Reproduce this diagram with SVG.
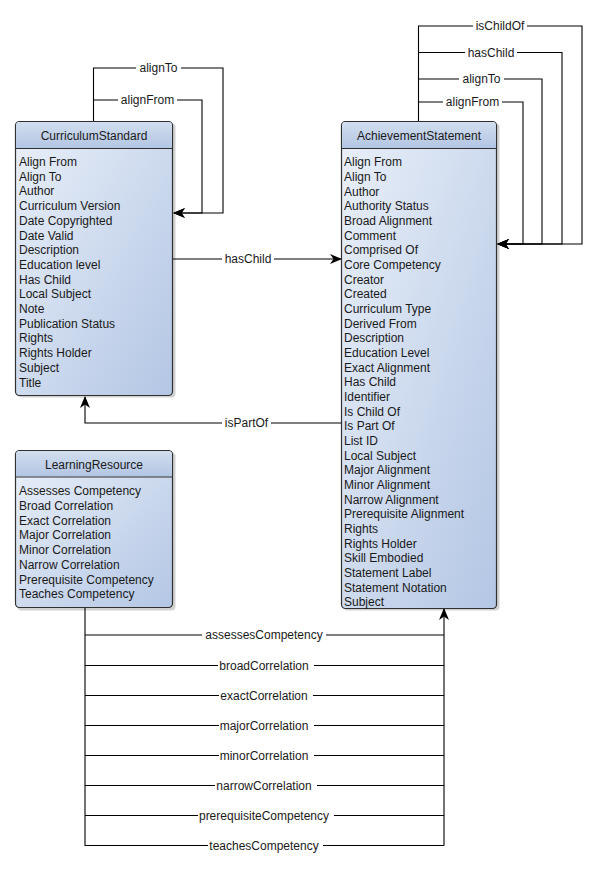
<svg xmlns="http://www.w3.org/2000/svg" width="598" height="870" viewBox="0 0 598 870">
<style>
text{font-family:"Liberation Sans",Arial,sans-serif;font-size:12px;fill:#1a1a1a}
.t{text-anchor:middle}
.lbl{text-anchor:middle}
.bg{fill:#fff}
.box{stroke:#303030;stroke-width:1.2;fill:url(#body)}
.hdr{fill:url(#head)}
.sep{stroke:#303030;stroke-width:1}
.sh{fill:#000;opacity:0.18}
.c{fill:none;stroke:#000;stroke-width:1.1}
.ca{fill:none;stroke:#000;stroke-width:1.1;marker-end:url(#arr)}
</style>
<defs>
<linearGradient id="body" x1="0" y1="0" x2="1" y2="1">
<stop offset="0" stop-color="#eaf0f9"/>
<stop offset="1" stop-color="#b3c6e4"/>
</linearGradient>
<linearGradient id="head" x1="0" y1="0" x2="0" y2="1">
<stop offset="0" stop-color="#d2deef"/>
<stop offset="1" stop-color="#b2c5e3"/>
</linearGradient>
<marker id="arr" markerUnits="userSpaceOnUse" markerWidth="12" markerHeight="10" refX="11" refY="5" orient="auto" viewBox="0 0 12 10">
<path d="M0,0 L12,5 L0,10 L3.5,5 z" fill="#000"/>
</marker>
</defs>
<rect width="598" height="870" fill="#fff"/>

<g id="connectors">
<path class="ca" d="M93.5,121 V68 H223 V213 H174"/>
<path class="ca" d="M93.5,100 H202 V213 H174"/>
<path class="ca" d="M418.5,121 V26 H582 V244 H498"/>
<path class="ca" d="M418.5,52.5 H562 V244 H498"/>
<path class="ca" d="M418.5,79 H542 V244 H498"/>
<path class="ca" d="M418.5,102 H523 V244 H498"/>
<path class="ca" d="M173,259 H341"/>
<path class="ca" d="M341,423 H85 V397"/>
<path class="c" d="M85,608 V845.5 H444"/>
<path class="c" d="M85,635 H444 M85,665.5 H444 M85,695.5 H444 M85,725.5 H444 M85,755.5 H444 M85,785.5 H444 M85,815.5 H444"/>
<path class="ca" d="M444,845.5 V609"/>
<g id="labels">
<rect class="bg" x="136" y="61" width="45" height="14"/><text class="lbl" x="158.5" y="72">alignTo</text>
<rect class="bg" x="118" y="93" width="59" height="14"/><text class="lbl" x="147.5" y="104">alignFrom</text>
<rect class="bg" x="473" y="19" width="54" height="14"/><text class="lbl" x="500" y="30">isChildOf</text>
<rect class="bg" x="465" y="45.5" width="52" height="14"/><text class="lbl" x="491" y="56.5">hasChild</text>
<rect class="bg" x="459" y="72" width="45" height="14"/><text class="lbl" x="481.5" y="83">alignTo</text>
<rect class="bg" x="443" y="95" width="59" height="14"/><text class="lbl" x="472.5" y="106">alignFrom</text>
<rect class="bg" x="222" y="252" width="52" height="14"/><text class="lbl" x="248" y="263">hasChild</text>
<rect class="bg" x="222" y="416" width="49" height="14"/><text class="lbl" x="246.5" y="427">isPartOf</text>
<rect class="bg" x="202" y="628" width="124" height="14"/><text class="lbl" x="264" y="639">assessesCompetency</text>
<rect class="bg" x="218" y="658.5" width="96" height="14"/><text class="lbl" x="264" y="669.5">broadCorrelation</text>
<rect class="bg" x="219" y="688.5" width="94" height="14"/><text class="lbl" x="264" y="699.5">exactCorrelation</text>
<rect class="bg" x="219" y="718.5" width="95" height="14"/><text class="lbl" x="264" y="729.5">majorCorrelation</text>
<rect class="bg" x="219" y="748.5" width="95" height="14"/><text class="lbl" x="264" y="759.5">minorCorrelation</text>
<rect class="bg" x="215" y="778.5" width="102" height="14"/><text class="lbl" x="264" y="789.5">narrowCorrelation</text>
<rect class="bg" x="198" y="808.5" width="136" height="14"/><text class="lbl" x="264" y="819.5">prerequisiteCompetency</text>
<rect class="bg" x="208" y="838.5" width="115" height="14"/><text class="lbl" x="264" y="849.5">teachesCompetency</text>
</g>
</g>

<g id="CurriculumStandard">
<rect class="sh" x="17.5" y="123.5" width="158" height="274" rx="4"/>
<rect class="box" x="15.5" y="121.5" width="157" height="274" rx="4"/>
<path class="hdr" d="M16.1,148 V125.5 Q16.1,122.1 19.5,122.1 H168.5 Q171.9,122.1 171.9,125.5 V148 z"/>
<line class="sep" x1="15.5" y1="148.5" x2="172.5" y2="148.5"/>
<text class="t" x="94" y="140">CurriculumStandard</text>
<text x="19" y="166">Align From</text>
<text x="19" y="180.7">Align To</text>
<text x="19" y="195.4">Author</text>
<text x="19" y="210.1">Curriculum Version</text>
<text x="19" y="224.8">Date Copyrighted</text>
<text x="19" y="239.5">Date Valid</text>
<text x="19" y="254.2">Description</text>
<text x="19" y="268.9">Education level</text>
<text x="19" y="283.6">Has Child</text>
<text x="19" y="298.3">Local Subject</text>
<text x="19" y="313">Note</text>
<text x="19" y="327.7">Publication Status</text>
<text x="19" y="342.4">Rights</text>
<text x="19" y="357.1">Rights Holder</text>
<text x="19" y="371.8">Subject</text>
<text x="19" y="386.5">Title</text>
</g>

<g id="LearningResource">
<rect class="sh" x="17.5" y="452.5" width="158" height="158" rx="4"/>
<rect class="box" x="15.5" y="450.5" width="157" height="157" rx="4"/>
<path class="hdr" d="M16.1,476.5 V454.5 Q16.1,451.1 19.5,451.1 H168.5 Q171.9,451.1 171.9,454.5 V476.5 z"/>
<line class="sep" x1="15.5" y1="477" x2="172.5" y2="477"/>
<text class="t" x="94" y="468.5">LearningResource</text>
<text x="19" y="495">Assesses Competency</text>
<text x="19" y="509.75">Broad Correlation</text>
<text x="19" y="524.5">Exact Correlation</text>
<text x="19" y="539.25">Major Correlation</text>
<text x="19" y="554">Minor Correlation</text>
<text x="19" y="568.75">Narrow Correlation</text>
<text x="19" y="583.5">Prerequisite Competency</text>
<text x="19" y="598.25">Teaches Competency</text>
</g>

<g id="AchievementStatement">
<rect class="sh" x="343.5" y="123.5" width="156" height="487" rx="4"/>
<rect class="box" x="341.5" y="121.5" width="155" height="487" rx="4"/>
<path class="hdr" d="M342.1,148 V125.5 Q342.1,122.1 345.5,122.1 H492.5 Q495.9,122.1 495.9,125.5 V148 z"/>
<line class="sep" x1="341.5" y1="148.5" x2="496.5" y2="148.5"/>
<text class="t" x="419" y="140">AchievementStatement</text>
<text x="344" y="166.3">Align From</text>
<text x="344" y="181">Align To</text>
<text x="344" y="195.6">Author</text>
<text x="344" y="210.3">Authority Status</text>
<text x="344" y="225">Broad Alignment</text>
<text x="344" y="239.6">Comment</text>
<text x="344" y="254.3">Comprised Of</text>
<text x="344" y="269">Core Competency</text>
<text x="344" y="283.7">Creator</text>
<text x="344" y="298.3">Created</text>
<text x="344" y="313">Curriculum Type</text>
<text x="344" y="327.7">Derived From</text>
<text x="344" y="342.3">Description</text>
<text x="344" y="357">Education Level</text>
<text x="344" y="371.7">Exact Alignment</text>
<text x="344" y="386.3">Has Child</text>
<text x="344" y="401">Identifier</text>
<text x="344" y="415.7">Is Child Of</text>
<text x="344" y="430.4">Is Part Of</text>
<text x="344" y="445">List ID</text>
<text x="344" y="459.7">Local Subject</text>
<text x="344" y="474.4">Major Alignment</text>
<text x="344" y="489">Minor Alignment</text>
<text x="344" y="503.7">Narrow Alignment</text>
<text x="344" y="518.4">Prerequisite Alignment</text>
<text x="344" y="533">Rights</text>
<text x="344" y="547.7">Rights Holder</text>
<text x="344" y="562.4">Skill Embodied</text>
<text x="344" y="577">Statement Label</text>
<text x="344" y="591.7">Statement Notation</text>
<text x="344" y="606.4">Subject</text>
</g>
</svg>
